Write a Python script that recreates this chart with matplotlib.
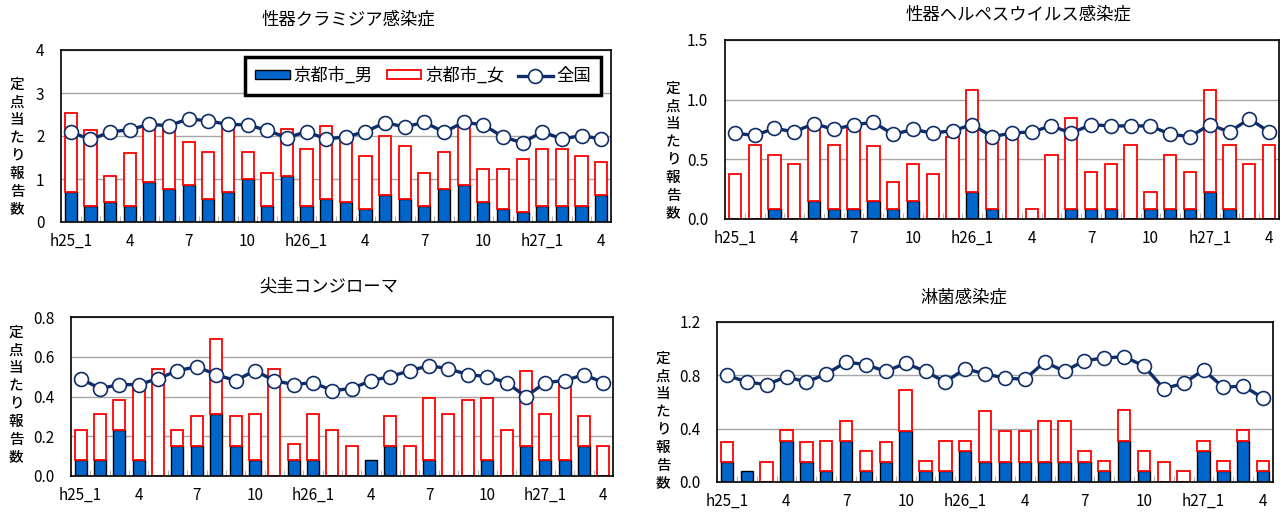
import matplotlib
matplotlib.use("Agg")
import matplotlib.pyplot as plt
from matplotlib.patches import Patch
from matplotlib.lines import Line2D
import numpy as np

plt.rcParams['font.family'] = ['Noto Sans CJK JP', 'DejaVu Sans']

# months h25_1 .. h27_4
months = ['h25_1', '2', '3', '4', '5', '6', '7', '8', '9', '10', '11', '12',
          'h26_1', '2', '3', '4', '5', '6', '7', '8', '9', '10', '11', '12',
          'h27_1', '2', '3', '4']
tick_idx = list(range(0, 28, 3))

# 性器クラミジア感染症
chl_male = [0.69, 0.38, 0.46, 0.38, 0.92, 0.77, 0.85, 0.54, 0.69, 1.00, 0.38, 1.08,
            0.38, 0.54, 0.46, 0.31, 0.62, 0.54, 0.38, 0.77, 0.85, 0.46, 0.31, 0.23,
            0.38, 0.38, 0.38, 0.62]
chl_female = [1.85, 1.77, 0.62, 1.23, 1.31, 1.46, 1.00, 1.08, 1.54, 0.62, 0.77, 1.08,
              1.31, 1.69, 1.54, 1.23, 1.38, 1.23, 0.77, 0.85, 1.38, 0.77, 0.92, 1.23,
              1.31, 1.31, 1.15, 0.77]
chl_nat = [2.09, 1.92, 2.09, 2.15, 2.27, 2.24, 2.40, 2.35, 2.27, 2.26, 2.13, 1.96,
           2.10, 1.93, 1.98, 2.10, 2.31, 2.21, 2.32, 2.09, 2.32, 2.26, 1.98, 1.84,
           2.10, 1.93, 2.01, 1.93]

# 性器ヘルペスウイルス感染症
her_male = [0, 0, 0.08, 0, 0.15, 0.08, 0.08, 0.15, 0.08, 0.15, 0, 0,
            0.23, 0.08, 0, 0, 0, 0.08, 0.08, 0.08, 0, 0.08, 0.08, 0.08,
            0.23, 0.08, 0, 0]
her_female = [0.38, 0.62, 0.46, 0.46, 0.62, 0.54, 0.69, 0.46, 0.23, 0.31, 0.38, 0.69,
              0.85, 0.62, 0.69, 0.08, 0.54, 0.77, 0.31, 0.38, 0.62, 0.15, 0.46, 0.31,
              0.85, 0.54, 0.46, 0.62]
her_nat = [0.72, 0.70, 0.76, 0.73, 0.80, 0.75, 0.79, 0.81, 0.71, 0.75, 0.72, 0.74,
           0.79, 0.69, 0.72, 0.73, 0.78, 0.72, 0.79, 0.78, 0.78, 0.78, 0.71, 0.69,
           0.79, 0.73, 0.84, 0.73]

# 尖圭コンジローマ
con_male = [0.08, 0.08, 0.23, 0.08, 0, 0.15, 0.15, 0.31, 0.15, 0.08, 0, 0.08,
            0.08, 0, 0, 0.08, 0.15, 0, 0.08, 0, 0, 0.08, 0, 0.15,
            0.08, 0.08, 0.15, 0]
con_female = [0.15, 0.23, 0.15, 0.38, 0.54, 0.08, 0.15, 0.38, 0.15, 0.23, 0.54, 0.08,
              0.23, 0.23, 0.15, 0, 0.15, 0.15, 0.31, 0.31, 0.38, 0.31, 0.23, 0.38,
              0.23, 0.38, 0.15, 0.15]
con_nat = [0.49, 0.44, 0.46, 0.46, 0.49, 0.53, 0.55, 0.51, 0.48, 0.53, 0.48, 0.46,
           0.47, 0.43, 0.44, 0.48, 0.50, 0.53, 0.555, 0.54, 0.51, 0.50, 0.47, 0.40,
           0.47, 0.48, 0.51, 0.47]

# 淋菌感染症
gon_male = [0.15, 0.08, 0, 0.31, 0.15, 0.08, 0.31, 0.08, 0.15, 0.38, 0.08, 0.08,
            0.23, 0.15, 0.15, 0.15, 0.15, 0.15, 0.15, 0.08, 0.31, 0.08, 0, 0,
            0.23, 0.08, 0.31, 0.08]
gon_female = [0.15, 0, 0.15, 0.08, 0.15, 0.23, 0.15, 0.15, 0.15, 0.31, 0.08, 0.23,
              0.08, 0.38, 0.23, 0.23, 0.31, 0.31, 0.08, 0.08, 0.23, 0.15, 0.15, 0.08,
              0.08, 0.08, 0.08, 0.08]
gon_nat = [0.80, 0.75, 0.73, 0.79, 0.75, 0.81, 0.90, 0.88, 0.83, 0.89, 0.83, 0.75,
           0.85, 0.81, 0.78, 0.77, 0.90, 0.83, 0.91, 0.93, 0.94, 0.87, 0.70, 0.74,
           0.84, 0.71, 0.72, 0.63]

BLUE = '#0066cc'
NAVY = '#0f2d69'
W, H = 1287, 513

fig = plt.figure(figsize=(W / 100, H / 100), dpi=100)


def px_axes(l, t, r, b):
    return fig.add_axes([l / W, 1 - b / H, (r - l) / W, (b - t) / H])


panels = [
    # title, male, female, national, ymax, ystep, fmt, box(l,t,r,b), title xy, ylabel xy
    ('性器クラミジア感染症', chl_male, chl_female, chl_nat, 4, 1, '{:.0f}',
     (61, 50, 611, 222), (348, 20), (17, 147)),
    ('性器ヘルペスウイルス感染症', her_male, her_female, her_nat, 1.5, 0.5, '{:.1f}',
     (725, 40, 1279, 219), (1018, 15), (673, 151)),
    ('尖圭コンジローマ', con_male, con_female, con_nat, 0.8, 0.2, '{:.1f}',
     (71, 317, 613, 476), (329, 287), (16, 395)),
    ('淋菌感染症', gon_male, gon_female, gon_nat, 1.2, 0.4, '{:.1f}',
     (717, 322, 1273, 482), (964, 297), (663, 421)),
]

x = np.arange(len(months))
axes = []
for title, male, female, nat, ymax, ystep, fmt, box, txy, lxy in panels:
    ax = px_axes(*box)
    axes.append(ax)
    male = np.array(male)
    female = np.array(female)
    ax.bar(x, male, width=0.62, color=BLUE, edgecolor='black', linewidth=1.0, zorder=2)
    red_edges = ['red' if v > 0 else 'none' for v in female]
    ax.bar(x, female, width=0.62, bottom=male, color='white', edgecolor=red_edges,
           linewidth=1.3, zorder=2)
    ax.plot(x, nat, color=NAVY, linewidth=2.4, marker='o', markersize=10,
            markerfacecolor='white', markeredgecolor=NAVY, markeredgewidth=1.2, zorder=3)

    ax.set_xlim(-0.5, len(months) - 0.5)
    ax.set_ylim(0, ymax)
    yt = np.arange(0, ymax + ystep / 2, ystep)
    ax.set_yticks(yt)
    ax.set_yticklabels([fmt.format(v) for v in yt])
    ax.yaxis.grid(True, color='#a6a6a6', linewidth=1.0, zorder=0)
    ax.set_axisbelow(True)
    ax.set_xticks(tick_idx)
    ax.set_xticklabels([months[i] for i in tick_idx])
    ax.set_xticks(np.arange(-0.5, len(months), 1), minor=True)
    ax.tick_params(axis='x', which='major', length=0, pad=8, labelsize=11)
    ax.tick_params(axis='x', which='minor', direction='in', length=4, color='#a6a6a6')
    ax.tick_params(axis='y', length=0, pad=12, labelsize=11)
    for s in ax.spines.values():
        s.set_color('black')
        s.set_linewidth(1.2)

    fig.text(txy[0] / W, 1 - txy[1] / H, title, ha='center', va='center', fontsize=12.5)
    fig.text(lxy[0] / W, 1 - lxy[1] / H, '\n'.join('定点当たり報告数'),
             ha='center', va='center', fontsize=10.5, linespacing=1.35, weight='medium')

handles = [
    Patch(facecolor=BLUE, edgecolor='black', linewidth=1.0),
    Patch(facecolor='white', edgecolor='red', linewidth=1.3),
    Line2D([0], [0], color=NAVY, linewidth=2.4, marker='o', markersize=10,
           markerfacecolor='white', markeredgecolor=NAVY, markeredgewidth=1.2),
]
leg = axes[0].legend(handles, ['京都市_男', '京都市_女', '全国'], ncol=3,
                     loc='center', bbox_to_anchor=(423 / W, 1 - 76 / H),
                     bbox_transform=fig.transFigure, fontsize=12.5, fancybox=False,
                     framealpha=1, handlelength=2.0, handleheight=0.45,
                     handletextpad=0.2, columnspacing=0.8, borderpad=0.6)
leg.get_frame().set_edgecolor('black')
leg.get_frame().set_linewidth(2.5)
leg.set_zorder(5)

fig.savefig('out.png', dpi=100)
